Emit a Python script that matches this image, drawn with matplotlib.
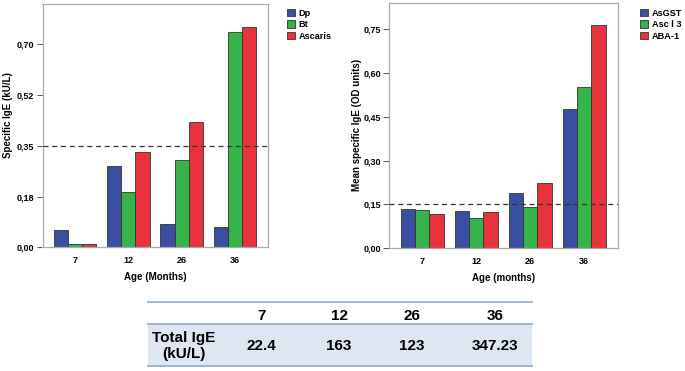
import numpy as np
import matplotlib.pyplot as plt
from matplotlib.patches import Rectangle
from matplotlib.lines import Line2D

# data
ages = ['7', '12', '26', '36']

left_names = ['Dp', 'Bt', 'Ascaris']
dp = [0.061, 0.280, 0.080, 0.070]
bt = [0.010, 0.190, 0.300, 0.741]
ascaris = [0.010, 0.330, 0.431, 0.761]
left_cut = 0.35

right_names = ['AsGST', 'Asc l 3', 'ABA-1']
asgst = [0.134, 0.128, 0.190, 0.477]
ascl3 = [0.130, 0.103, 0.141, 0.551]
aba1 = [0.117, 0.124, 0.225, 0.764]
right_cut = 0.15

total_ige = ['22.4', '163', '123', '347.23']

colors = ['#3b4fa2', '#36b44a', '#e8333c']
W, H = 685, 371

plt.rcParams['font.family'] = ['Liberation Sans', 'DejaVu Sans']

fig = plt.figure(figsize=(W / 100, H / 100), dpi=100)


def fx(px):
    return px / W


def fy(py):
    return 1 - py / H


def bar_panel(rect, series, names, ticks, ticklabels, ymax, cut, ylabel, ylab_xy, xlabel, legpos):
    ax = fig.add_axes(rect)
    x = np.arange(len(ages))
    bw = 0.8 / 3
    for i, vals in enumerate(series):
        ax.bar(x + (i - 1) * bw, vals, bw, color=colors[i], edgecolor='#333333',
               linewidth=0.6, label=names[i], zorder=2)
    ax.axhline(cut, color='#333333', linestyle=(0, (4, 3)), linewidth=0.9, zorder=3)
    ax.set_xlim(-0.61, 3.62)
    ax.set_ylim(0, ymax)
    ax.set_xticks(x)
    ax.set_xticklabels(ages, fontsize=6.5, fontweight='bold')
    ax.set_yticks(ticks)
    ax.set_yticklabels(ticklabels, fontsize=6.5, fontweight='bold')
    ax.tick_params(axis='x', length=0, pad=6)
    ax.tick_params(axis='y', length=4, width=0.7, color='#555555', pad=2)
    for s in ax.spines.values():
        s.set_color('#aaaaaa')
        s.set_linewidth(0.9)
    fig.text(fx(ylab_xy[0]), fy(ylab_xy[1]), ylabel, rotation=90, ha='center', va='center',
             fontsize=7, fontweight='bold')
    ax.set_xlabel(xlabel, fontsize=7, fontweight='bold', labelpad=5)
    h, l = ax.get_legend_handles_labels()
    fig.legend(h, l, loc='upper left', bbox_to_anchor=legpos, frameon=False,
               prop={'weight': 'bold', 'size': 6.6}, handlelength=0.9,
               handleheight=0.9, handletextpad=0.4, labelspacing=0.28, borderaxespad=0)
    return ax


lt = np.arange(0, 0.71, 0.175)
bar_panel([fx(42.5), fy(247.3), fx(225.5), (247.3 - 4) / H], [dp, bt, ascaris], left_names,
          lt, ['0,00', '0,18', '0,35', '0,52', '0,70'], 0.839, left_cut,
          'Specific IgE (kU/L)', (8, 115), 'Age (Months)', (fx(283), fy(5)))

rt = np.arange(0, 0.76, 0.15)
bar_panel([fx(389.3), fy(248.3), fx(228.4), (248.3 - 2.7) / H], [asgst, ascl3, aba1], right_names,
          rt, ['0,00', '0,15', '0,30', '0,45', '0,60', '0,75'], 0.841, right_cut,
          'Mean specific IgE (OD units)', (357, 125), 'Age (months)', (fx(636), fy(5)))

# table below the charts
tl, tr = fx(148), fx(532)
fig.add_artist(Rectangle((tl, fy(366.3)), tr - tl, fy(324.3) - fy(366.3),
                         transform=fig.transFigure, facecolor='#dde6f1', edgecolor='none'))
for yy in [301.7, 324.3, 366.3]:
    fig.add_artist(Line2D([tl, tr], [fy(yy), fy(yy)], transform=fig.transFigure,
                          color='#8fa9c9', linewidth=1.2))
col_x = [261.7, 339, 411.7, 495]
for cx, a, v in zip(col_x, ages, total_ige):
    fig.text(fx(cx), fy(316.5), a, ha='center', va='center', fontsize=11,
             fontweight='bold')
    fig.text(fx(cx), fy(346), v, ha='center', va='center', fontsize=11,
             fontweight='bold')
fig.text(fx(183.5), fy(346), 'Total IgE\n(kU/L)', ha='center', va='center', fontsize=11,
         fontweight='bold', linespacing=1.2)

fig.savefig('out.png', dpi=100)
